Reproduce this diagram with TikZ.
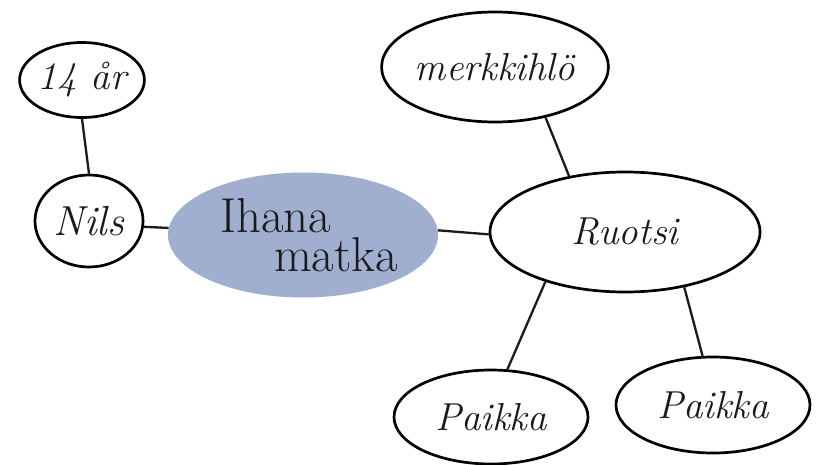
\documentclass[tikz,border=0pt]{standalone}
\usepackage{fontspec}
\usetikzlibrary{shapes.geometric}
\definecolor{centerfill}{HTML}{A0AFD0}
\definecolor{inkline}{HTML}{1A1A1A}
\tikzset{
  bubble/.style={ellipse, draw=black, line width=2.7pt, fill=white, inner sep=0pt,
    font=\itshape\fontsize{39}{41}\selectfont, text=inkline},
  hub/.style={ellipse, fill=centerfill, inner sep=0pt, text=inkline,
    font=\fontsize{49}{39}\selectfont, align=left},
  link/.style={draw=inkline, line width=2.3pt}
}
\begin{document}
\begin{tikzpicture}[x=1pt,y=-1pt]
\useasboundingbox (0,0) rectangle (818,465);
\node[hub, minimum width=270pt, minimum height=125pt] (hub) at (303,235)
  {\hspace*{12pt}Ihana\\\hspace*{66pt}matka};
\node[bubble, minimum width=116pt, minimum height=75pt] (age) at (82,80) {14 år};
\node[bubble, minimum width=108pt, minimum height=92pt, font=\itshape\fontsize{42}{44}\selectfont] (nils) at (89,221) {Nils};
\node[bubble, minimum width=206pt, minimum height=110pt] (merk) at (495,67) {merkkihlö};
\node[bubble, minimum width=270pt, minimum height=120pt] (ruotsi) at (625,232) {Ruotsi};
\node[bubble, minimum width=194pt, minimum height=94pt] (p1) at (491,417) {Paikka};
\node[bubble, minimum width=194pt, minimum height=96pt] (p2) at (713,405) {Paikka};
\draw[link] (age.270) -- (nils.90);
\draw[link] (nils.354) -- (hub.177);
\draw[link] (hub.2) -- (ruotsi.181);
\draw[link] (merk.315) -- (ruotsi.135);
\draw[link] (ruotsi.212) -- (p1.71);
\draw[link] (ruotsi.317) -- (p2.102);
\end{tikzpicture}
\end{document}
